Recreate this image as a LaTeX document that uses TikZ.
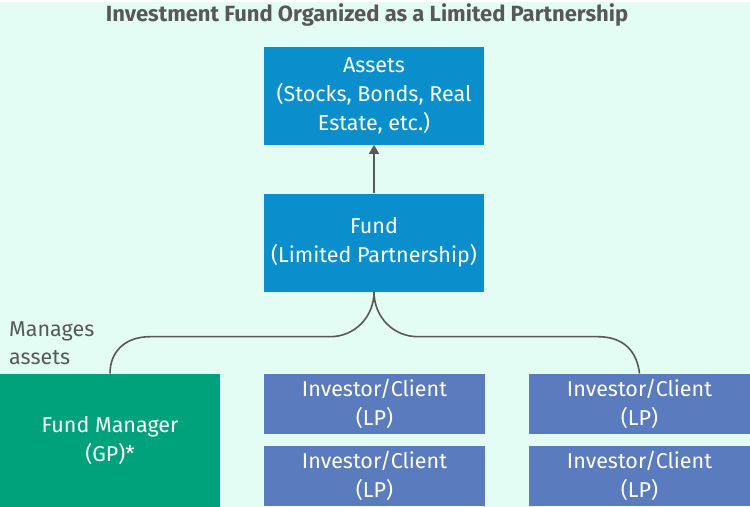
\documentclass[tikz,border=0pt]{standalone}
\usepackage{fontspec}
\setmainfont{Fira Sans}
\usetikzlibrary{arrows.meta}
\definecolor{mint}{HTML}{E3FCF4}
\definecolor{assetblue}{HTML}{0A8FCC}
\definecolor{gpgreen}{HTML}{00A27C}
\definecolor{lpblue}{HTML}{5A7BBE}
\definecolor{ink}{HTML}{585858}
\tikzset{
  box/.style={fill=#1,text=white,align=center,inner sep=0pt,font=\fontsize{21.5}{29}\selectfont},
  link/.style={draw=ink,line width=1.6pt}
}

\begin{document}
\begin{tikzpicture}[x=1pt,y=-1pt]
\fill[mint] (0,0) rectangle (750,505);
\node[text=ink,font=\fontsize{22}{24}\selectfont\bfseries] (title) at (367,13) {Investment Fund Organized as a Limited Partnership};

\node[box=assetblue,minimum width=220pt,minimum height=98pt] (assets) at (374,94) {Assets\\(Stocks, Bonds, Real\\Estate, etc.)};
\node[box=assetblue,minimum width=220pt,minimum height=98pt] (fund) at (374,241) {Fund\\(Limited Partnership)};

\node[box=gpgreen,minimum width=220pt,minimum height=133pt] (gp) at (110,438.5) {Fund Manager\\(GP)*};
\node[box=lpblue,minimum width=221pt,minimum height=60pt] (lpa) at (374.5,402) {Investor/Client\\(LP)};
\node[box=lpblue,minimum width=221pt,minimum height=60pt] (lpb) at (374.5,474) {Investor/Client\\(LP)};
\node[box=lpblue,minimum width=221pt,minimum height=60pt] (lpc) at (639.5,402) {Investor/Client\\(LP)};
\node[box=lpblue,minimum width=221pt,minimum height=60pt] (lpd) at (639.5,474) {Investor/Client\\(LP)};

\node[text=ink,anchor=west,align=left,inner sep=0pt,font=\fontsize{21.5}{28}\selectfont] (manages) at (9,342) {Manages\\assets};

% fund to assets
\draw[link,-{Triangle[length=9pt,width=10pt]}] (fund.north) -- (assets.south);
% fund down to the partners
\draw[link] (fund.south) .. controls (374,315) and (355,335) .. (330,335) -- (150,335)
  .. controls (125,335) and (110,350) .. (gp.north);
\draw[link] (fund.south) .. controls (374,315) and (393,335) .. (418,335) -- (598,335)
  .. controls (624,335) and (637,350) .. (lpc.north);
\end{tikzpicture}
\end{document}
